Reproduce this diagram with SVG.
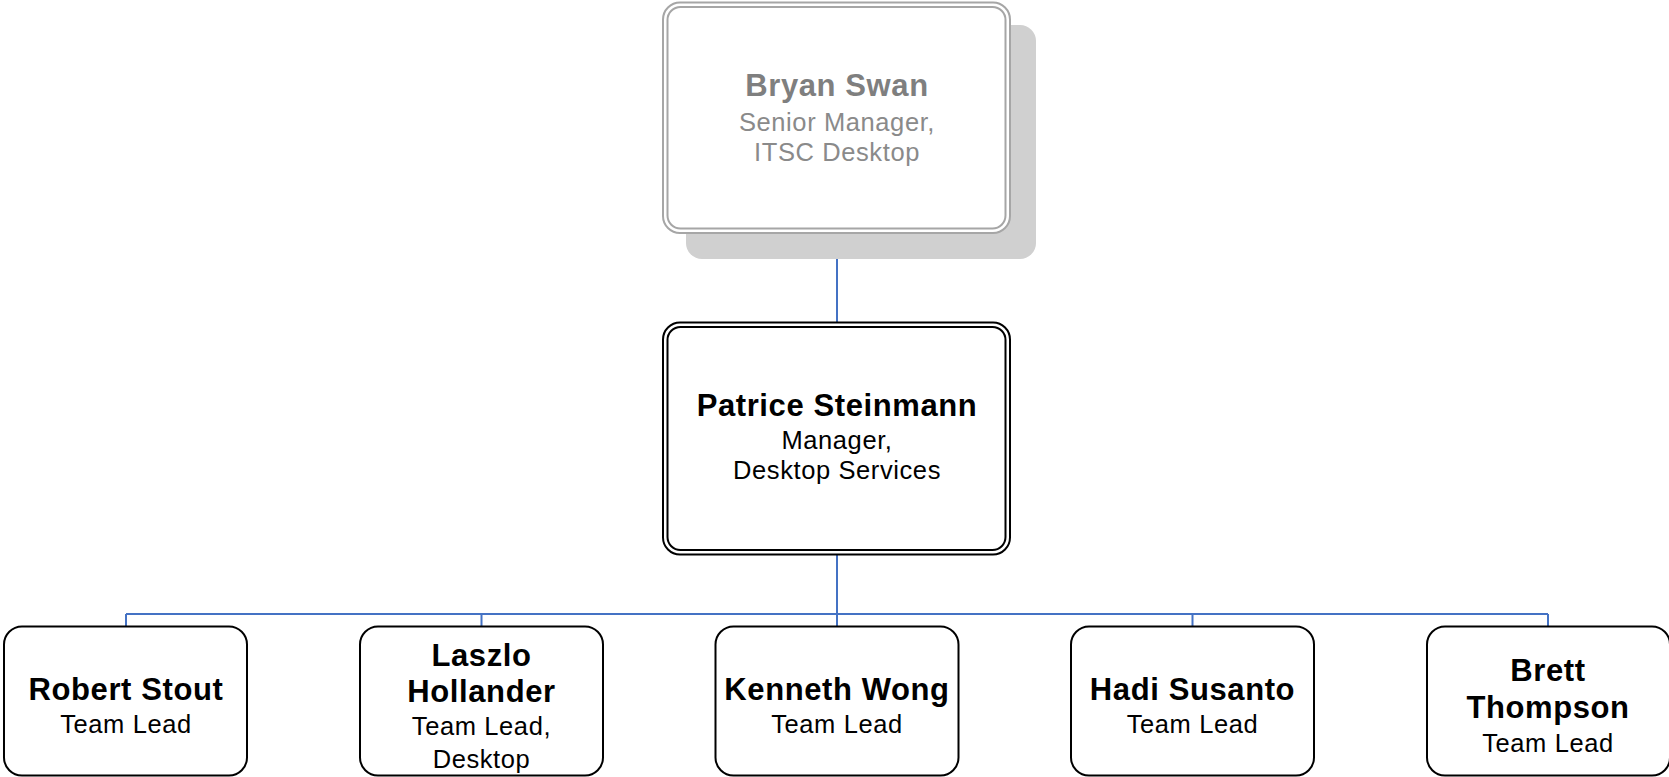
<svg xmlns="http://www.w3.org/2000/svg" width="1669" height="777" viewBox="0 0 1669 777">
<style>
  .name { font-family: "Liberation Sans", Arial, sans-serif; font-weight: bold; font-size: 31px; letter-spacing: 0.6px; text-anchor: middle; fill: #000; }
  .sub { font-family: "Liberation Sans", Arial, sans-serif; font-size: 25.5px; letter-spacing: 0.6px; text-anchor: middle; fill: #000; }
  .grey .name { fill: #7f7f7f; }
  .grey .sub { fill: #8a8a8a; }
  .box { fill: #fff; stroke: #000; stroke-width: 2; }
  .gbox { fill: #fff; stroke: #a6a6a6; stroke-width: 2; }
  .shadow { fill: #d0d0d0; }
  .conn { fill: none; stroke: #4472c4; stroke-width: 2; }
</style>
<rect width="1669" height="777" fill="#fff"/>
<g id="connectors">
  <path class="conn" d="M837 233 V322"/>
  <path class="conn" d="M837 555 V614 M126 614 H1548 M126 614 V626 M481.5 614 V626 M837 614 V626 M1192.5 614 V626 M1548 614 V626"/>
</g>
<g id="node-bryan" class="grey">
  <rect class="shadow" x="686" y="25" width="350" height="234" rx="16"/>
  <rect class="gbox" x="663" y="2.5" width="347" height="230.5" rx="17"/>
  <rect class="gbox" x="667.5" y="7" width="338" height="221.5" rx="13"/>
  <text class="name" x="837" y="96">Bryan Swan</text>
  <text class="sub" x="837" y="131">Senior Manager,</text>
  <text class="sub" x="837" y="161">ITSC Desktop</text>
</g>
<g id="node-patrice">
  <rect class="box" x="663" y="322.5" width="347" height="232" rx="17"/>
  <rect class="box" x="667.5" y="327" width="338" height="223" rx="13"/>
  <text class="name" x="837" y="416">Patrice Steinmann</text>
  <text class="sub" x="837" y="449">Manager,</text>
  <text class="sub" x="837" y="479">Desktop Services</text>
</g>
<g id="node-robert">
  <rect class="box" x="4" y="626.5" width="243" height="149" rx="18"/>
  <text class="name" x="126" y="700">Robert Stout</text>
  <text class="sub" x="126" y="733">Team Lead</text>
</g>
<g id="node-laszlo">
  <rect class="box" x="360" y="626.5" width="243" height="149" rx="18"/>
  <text class="name" x="481.5" y="666">Laszlo</text>
  <text class="name" x="481.5" y="702">Hollander</text>
  <text class="sub" x="481.5" y="735">Team Lead,</text>
  <text class="sub" x="481.5" y="768">Desktop</text>
</g>
<g id="node-kenneth">
  <rect class="box" x="715.5" y="626.5" width="243" height="149" rx="18"/>
  <text class="name" x="837" y="700">Kenneth Wong</text>
  <text class="sub" x="837" y="733">Team Lead</text>
</g>
<g id="node-hadi">
  <rect class="box" x="1071" y="626.5" width="243" height="149" rx="18"/>
  <text class="name" x="1192.5" y="700">Hadi Susanto</text>
  <text class="sub" x="1192.5" y="733">Team Lead</text>
</g>
<g id="node-brett">
  <rect class="box" x="1427" y="626.5" width="243" height="149" rx="18"/>
  <text class="name" x="1548" y="681">Brett</text>
  <text class="name" x="1548" y="718">Thompson</text>
  <text class="sub" x="1548" y="752">Team Lead</text>
</g>
</svg>
